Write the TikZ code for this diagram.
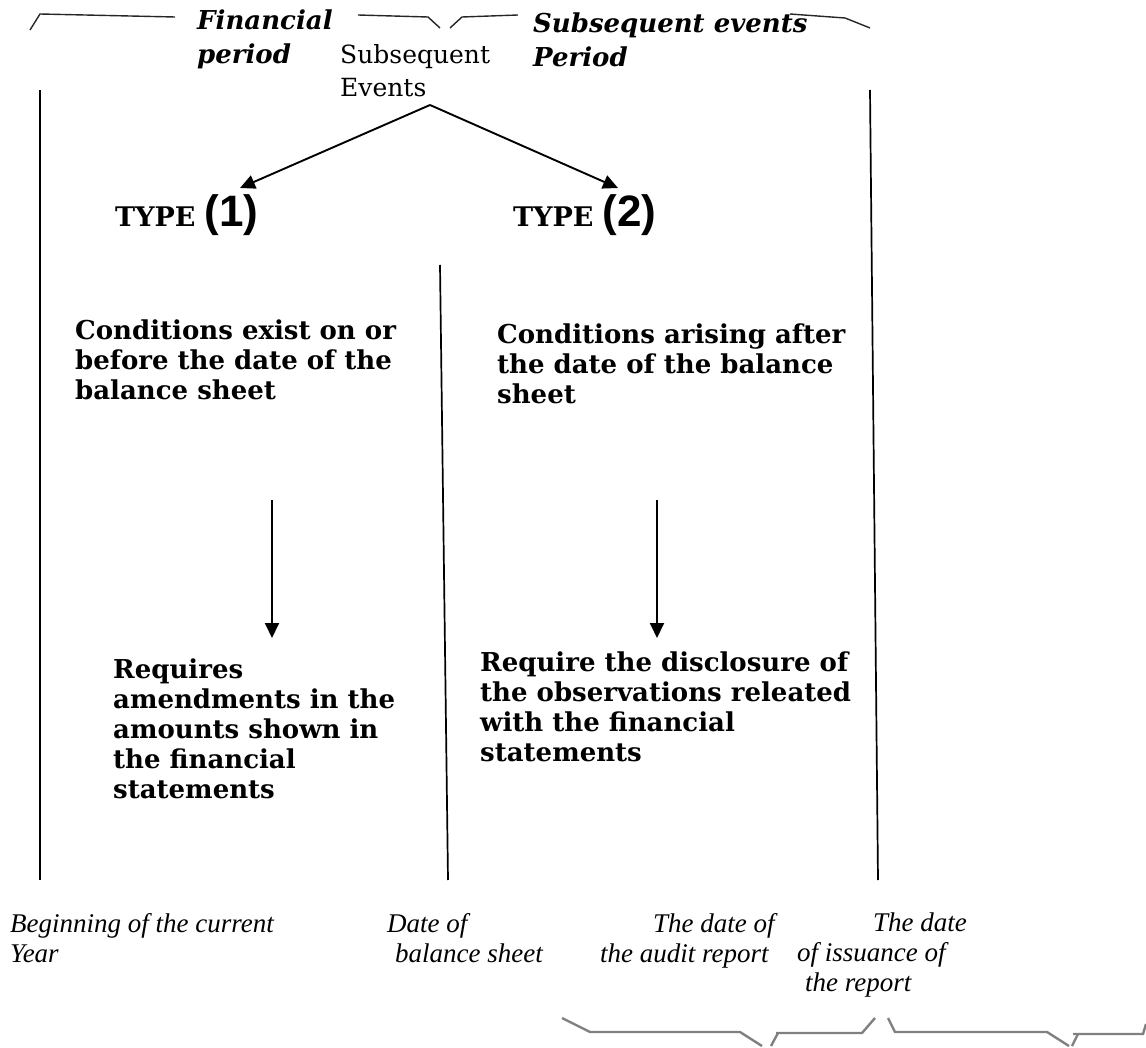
\documentclass[tikz,border=0pt]{standalone}
\usepackage{fontspec}
\setmainfont{DejaVu Serif}
\newfontfamily\timesf{Liberation Serif}
\newfontfamily\arialf{Liberation Sans}
\usetikzlibrary{arrows.meta}
\begin{document}
\begin{tikzpicture}[x=1pt,y=-1pt,
  boldtxt/.style={font=\fontsize{26}{30}\selectfont\bfseries, align=left, inner sep=0pt, anchor=north west},
  headtxt/.style={font=\fontsize{26}{34}\selectfont\bfseries\itshape, align=left, inner sep=0pt, anchor=north west},
  plaintxt/.style={font=\fontsize{25}{33}\selectfont, align=left, inner sep=0pt, anchor=north west},
  itxt/.style={font=\timesf\itshape\fontsize{27}{30}\selectfont, align=left, inner sep=0pt, anchor=north west},
  typetxt/.style={font=\fontsize{27}{30}\selectfont\bfseries, inner sep=0pt, anchor=west},
  vline/.style={draw=black, line width=1.7pt},
  topbr/.style={draw=black!85, line width=1.4pt},
  botbr/.style={draw=black!50, line width=2.4pt},
  arr/.style={draw=black, line width=1.9pt, -{Triangle[length=15pt,width=14pt]}}
]
\useasboundingbox (0,0) rectangle (1146,1048);

% top brackets
\draw[topbr] (30,30) -- (40,14) -- (175,17);
\draw[topbr] (358,15) -- (428,17) -- (440,28);
\draw[topbr] (450,28) -- (462,17) -- (518,15);
\draw[topbr] (790,14) -- (845,18) -- (870,28);

% header texts
\node[headtxt] (fp) at (197,10) {Financial\\period};
\node[plaintxt] (se) at (340,44) {Subsequent\\Events};
\node[headtxt] (sp) at (533,13) {Subsequent events\\Period};

% vertical lines
\draw[vline] (40,90) -- (40,880);
\draw[vline] (440,265) -- (448,880);
\draw[vline] (870,90) -- (878,880);

% type nodes
\node[typetxt] (t1) at (115,215) {TYPE \arialf\fontsize{44}{44}\selectfont(1)};
\node[typetxt] (t2) at (513,215) {TYPE \arialf\fontsize{44}{44}\selectfont(2)};

\coordinate (apex) at (430,105);
\coordinate (tip1) at (240,188);
\coordinate (tip2) at (618,188);
\draw[arr] (apex) -- (tip1);
\draw[arr] (apex) -- (tip2);

% condition texts
\node[boldtxt] (c1) at (75,320) {Conditions exist on or\\before the date of the\\balance sheet};
\node[boldtxt] (c2) at (497,324) {Conditions arising after\\the date of the balance\\sheet};

\coordinate (d1s) at (272,500);
\coordinate (d1e) at (272,638);
\coordinate (d2s) at (657,500);
\coordinate (d2e) at (657,638);
\draw[arr] (d1s) -- (d1e);
\draw[arr] (d2s) -- (d2e);

% result texts
\node[boldtxt] (r1) at (113,659) {Requires\\amendments in the\\amounts shown in\\the financial\\statements};
\node[boldtxt] (r2) at (480,652) {Require the disclosure of\\the observations releated\\with the financial\\statements};

% bottom labels
\node[itxt] (b1) at (10,913) {Beginning of the current\\Year};
\node[itxt] (b2) at (387,913) {Date of\\\hspace*{8pt}balance sheet};
\node[itxt] (b3) at (600,913) {\hspace*{53pt}The date of\\the audit report};
\node[itxt] (b4) at (797,913) {\hspace*{76pt}The date\\of issuance of\\\hspace*{8pt}the report};

% bottom brackets
\draw[botbr] (562,1018) -- (590,1032) -- (740,1032) -- (762,1046);
\draw[botbr] (771,1046) -- (778,1033);
\draw[botbr] (776,1033) -- (862,1033) -- (875,1018);
\draw[botbr] (888,1018) -- (895,1032) -- (1047,1032) -- (1069,1046);
\draw[botbr] (1072,1046) -- (1078,1034);
\draw[botbr] (1073,1034) -- (1143,1034) -- (1146,1024);
\end{tikzpicture}
\end{document}
